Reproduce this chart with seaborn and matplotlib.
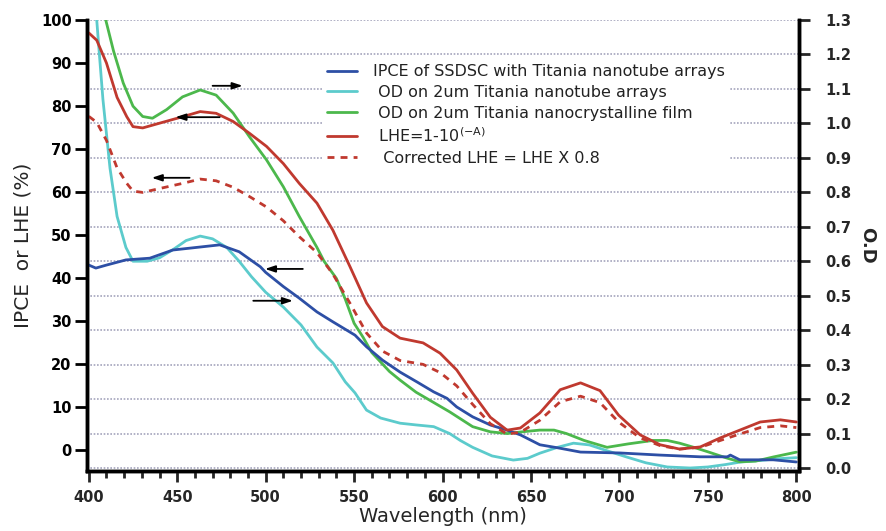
import matplotlib
matplotlib.use("Agg")
import pandas as pd
import matplotlib.pyplot as plt
import seaborn as sns
from matplotlib.ticker import MultipleLocator

# ===== DATA =====
# IPCE, left axis (%)
ipce_nm = [400, 404, 410, 421, 434.5, 447.5, 463, 474, 485, 497, 500, 510, 519, 529, 538,
           550.5, 557, 566, 576, 585.6, 595, 602.5, 608, 617, 627, 636.5, 644, 655, 665,
           678, 700, 723, 745.7, 761, 762.7, 768, 787, 800]
ipce = [43.0, 42.3, 43.0, 44.2, 44.6, 46.5, 47.2, 47.7, 46.1, 42.6, 41.3, 38.0, 35.3, 32.1, 29.8,
        26.7, 24.0, 20.9, 18.1, 15.8, 13.5, 12.0, 10.0, 7.7, 5.8, 4.6, 3.5, 1.2, 0.5,
        -0.5, -0.7, -1.2, -1.6, -1.6, -1.2, -2.3, -2.3, -2.8]

# OD of nanotube arrays, right axis
od_tube_nm = [400, 402, 404.5, 406, 408, 410, 412, 416, 421, 425, 433, 440, 448, 455, 463, 470,
              478, 485, 492, 500, 510, 520, 529, 538, 545, 550.5, 557, 565, 576, 585, 595,
              604, 610, 617, 628, 640, 648, 655, 665, 674, 683, 693, 704, 715, 727, 740,
              750, 760, 768, 780, 790, 800]
od_tube = [1.65, 1.45, 1.30, 1.20, 1.07, 0.97, 0.87, 0.73, 0.64, 0.60, 0.60, 0.61, 0.635, 0.66,
           0.673, 0.665, 0.64, 0.60, 0.555, 0.51, 0.467, 0.415, 0.351, 0.305, 0.25, 0.218,
           0.168, 0.145, 0.13, 0.125, 0.12, 0.10, 0.08, 0.06, 0.035, 0.023, 0.028, 0.043,
           0.06, 0.072, 0.067, 0.05, 0.032, 0.015, 0.003, 0.0, 0.003, 0.01, 0.017, 0.022,
           0.027, 0.03]

# OD of nanocrystalline film, right axis
od_film_nm = [400, 405, 409.6, 414, 419.5, 425, 430.5, 436, 444, 453, 463, 472, 481.6, 491,
              500.5, 510, 519, 529, 533, 540, 545, 550, 555, 560, 570, 576, 585, 595, 604,
              617, 627, 636.5, 645, 655, 663, 670, 680, 693, 705, 719, 727, 734, 742, 750,
              760, 768, 777, 787, 800]
od_film = [1.65, 1.45, 1.30, 1.21, 1.117, 1.05, 1.02, 1.015, 1.04, 1.077, 1.097, 1.082, 1.03,
           0.96, 0.894, 0.816, 0.73, 0.64, 0.60, 0.55, 0.49, 0.42, 0.38, 0.335, 0.28, 0.255,
           0.22, 0.19, 0.163, 0.12, 0.105, 0.10, 0.105, 0.11, 0.11, 0.10, 0.08, 0.06, 0.07,
           0.08, 0.08, 0.072, 0.06, 0.047, 0.03, 0.018, 0.02, 0.032, 0.046]

# LHE and corrected LHE, left axis (%)
lhe_nm = [400, 404.5, 410, 416, 421.5, 425, 430.5, 440, 453, 463, 472, 481.6, 491, 500.5, 510,
          519, 529, 538, 547.7, 557, 566, 576, 589, 598.6, 608, 617, 627, 636.5, 644, 655,
          666.5, 678, 689, 699.5, 711.7, 723, 734, 745.7, 757, 768, 779.6, 791, 800]
lhe = [97.0, 95.3, 90.0, 82.0, 77.5, 75.2, 74.9, 76.0, 77.5, 78.7, 78.3, 76.4, 73.6, 70.6, 66.6,
       62.0, 57.4, 51.1, 42.6, 34.2, 28.7, 26.0, 24.9, 22.5, 18.6, 13.2, 7.6, 4.6, 5.1, 8.6,
       14.0, 15.6, 13.8, 8.1, 3.5, 1.2, 0.2, 0.7, 2.8, 4.6, 6.5, 7.0, 6.5]
lhe_corr = [77.6, 76.2, 72.0, 65.6, 62.0, 60.2, 59.9, 60.8, 62.0, 63.0, 62.6, 61.1, 58.9, 56.5,
            53.3, 49.6, 45.9, 40.9, 34.1, 27.2, 23.0, 20.8, 19.9, 18.0, 14.9, 10.6, 6.1, 3.7,
            4.1, 6.9, 11.2, 12.5, 11.0, 6.5, 2.8, 1.0, 0.2, 0.6, 2.2, 3.7, 5.2, 5.6, 5.2]

labels = ["IPCE of SSDSC with Titania nanotube arrays",
          " OD on 2um Titania nanotube arrays",
          " OD on 2um Titania nanocrystalline film",
          " LHE=1-10$^{\\mathregular{(-A)}}$",
          "  Corrected LHE = LHE X 0.8"]

# arrows: (tail_nm, head_nm, level on left axis)
arrows = [(470, 487, 84.7), (474, 449, 77.4), (457, 435.6, 63.3),
          (521, 499.6, 42.1), (493, 515.4, 34.7)]

BLUE = "#2d4fa5"
CYAN = "#5ccbcc"
GREEN = "#4cb84c"
RED = "#c0392f"

# ===== PLOT =====
sns.set_style("ticks")
plt.rcParams["font.family"] = ["DejaVu Sans"]

fig = plt.figure(figsize=(8.86, 5.31), dpi=100)
ax = fig.add_axes([0.0982, 0.113, 0.8036, 0.8493])
ax2 = ax.twinx()
ax.set_zorder(ax2.get_zorder() + 1)
ax.patch.set_visible(False)

lw = 2.0
sns.lineplot(x=ipce_nm, y=ipce, ax=ax, color=BLUE, lw=lw, label=labels[0])
sns.lineplot(x=od_tube_nm, y=od_tube, ax=ax2, color=CYAN, lw=lw, label=labels[1])
sns.lineplot(x=od_film_nm, y=od_film, ax=ax2, color=GREEN, lw=lw, label=labels[2])
sns.lineplot(x=lhe_nm, y=lhe, ax=ax, color=RED, lw=lw, label=labels[3])
sns.lineplot(x=lhe_nm, y=lhe_corr, ax=ax, color=RED, lw=lw, linestyle=(0, (2.5, 2.2)),
             label=labels[4])

if ax2.get_legend() is not None:
    ax2.get_legend().remove()

for tail, head, lvl in arrows:
    ax.annotate("", xy=(head, lvl), xytext=(tail, lvl),
                arrowprops=dict(arrowstyle="-|>,head_length=0.6,head_width=0.2",
                                color="black", lw=1.3, shrinkA=0, shrinkB=0))

ax.set_xlim(399, 801.5)
ax.set_ylim(-4.9, 100)
ax2.set_ylim(-0.0087, 1.3)

ax.set_yticks(range(0, 101, 10))
ax2.set_yticks([i / 10 for i in range(14)])
ax2.set_yticklabels([f"{i / 10:.1f}" for i in range(14)])
ax.xaxis.set_major_locator(MultipleLocator(50))
ax.xaxis.set_minor_locator(MultipleLocator(10))

ax2.yaxis.grid(True, color="#a4a4bc", linestyle=(0, (1, 1)), lw=1.2)
ax.grid(False)

for a in (ax, ax2):
    a.spines["top"].set_visible(False)
    for s in ("left", "right", "bottom"):
        a.spines[s].set_linewidth(2.5)
        a.spines[s].set_color("black")

ax.tick_params(axis="y", length=9, width=2, pad=2, labelsize=10.5, colors="black")
ax.tick_params(axis="x", which="major", length=8, width=2, pad=6, labelsize=10.5)
ax.tick_params(axis="x", which="minor", length=5, width=2)
ax2.tick_params(axis="y", length=8, width=2, pad=11, labelsize=10.5)
for t in ax.get_xticklabels() + ax.get_yticklabels() + ax2.get_yticklabels():
    t.set_fontweight("bold")

ax.set_xlabel("Wavelength (nm)", fontsize=14, labelpad=1)
ax.set_ylabel("IPCE  or LHE (%)", fontsize=14.5, labelpad=6)
ax2.set_ylabel("O.D", fontsize=13, fontweight="bold", rotation=270, labelpad=18)

handles1, _ = ax.get_legend_handles_labels()
handles2, _ = ax2.get_legend_handles_labels()
handles = [handles1[0], handles2[0], handles2[1], handles1[1], handles1[2]]
leg = ax.legend(handles, labels, loc="upper left", bbox_to_anchor=(0.330, 0.912),
                frameon=True, facecolor="white", edgecolor="none", framealpha=1,
                fancybox=False, fontsize=11.5, handlelength=1.9, handletextpad=1.0,
                labelspacing=0.35, borderpad=0.3, borderaxespad=0)
for t in leg.get_texts():
    t.set_color("#222222")

fig.savefig("out.png", dpi=100)
